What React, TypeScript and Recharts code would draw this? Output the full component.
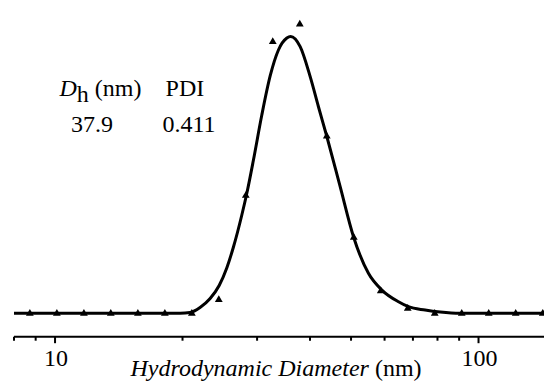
import React from "react";
import { ComposedChart, Line, Scatter, XAxis, YAxis } from "recharts";

// Measured DLS bins (nm) and intensity (%)
const binSizes = [8.721, 10.1, 11.7, 13.54, 15.69, 18.17, 21.04, 24.36, 28.21, 32.67, 37.84, 43.82, 50.75, 58.77, 68.06, 78.82, 91.28, 105.7, 122.4, 141.8];
const binIntensity = [0, 0, 0, 0, 0, 0, 0, 1.4, 12.1, 27.9, 29.7, 18.2, 7.8, 2.3, 0.5, 0, 0, 0, 0, 0];

// Fitted curve
const fitSizes = [8, 12, 16, 19.74, 20.84, 22.0, 23.24, 24.41, 25.44, 26.38, 27.61, 28.38, 29.41, 30.78, 32.21, 33.69, 35.27, 36.0, 37.92, 40.04, 41.88, 43.85, 47.13, 50.67, 54.96, 59.14, 64.72, 68.33, 74.82, 81.2, 90.5, 120, 160, 200];
const fitIntensity = [0, 0, 0, 0, 0.08, 0.6, 1.52, 2.86, 4.66, 6.81, 10.1, 12.36, 15.75, 20.37, 24.38, 27.05, 28.28, 28.44, 27.39, 24.31, 21.22, 18.14, 13.01, 7.87, 4.11, 2.39, 1.19, 0.68, 0.34, 0.13, 0, 0, 0, 0];

const xTicks = [8, 9, 10, 20, 30, 40, 50, 60, 70, 80, 90, 100, 200];
const labeledTicks = [10, 100];

const points = binSizes.map((d, i) => ({ d, v: binIntensity[i] }));
const fit = fitSizes.map((d, i) => ({ d, v: fitIntensity[i] }));

const FONT = "Liberation Serif";
const txt: React.CSSProperties = { fontFamily: FONT, fontSize: 24 };

const Tick = (props: any) => {
  const { x, y, payload } = props;
  const val = payload.value;
  const major = labeledTicks.includes(val);
  return (
    <g>
      <line x1={x} y1={y} x2={x} y2={y + (major ? 6.5 : 4)} stroke="#000" strokeWidth={2} />
      {major ? (
        <text x={x + 1} y={y + 29.5} textAnchor="middle" style={txt} fill="#000">
          {String(val)}
        </text>
      ) : null}
    </g>
  );
};

const Tri = (props: any) => {
  const { cx, cy } = props;
  if (cx == null || cy == null) return null;
  const d = `M${cx},${cy - 4.4}L${cx - 3.9},${cy + 2.3}L${cx + 3.9},${cy + 2.3}Z`;
  return <path d={d} fill="#000" />;
};

export default function App() {
  return (
    <div style={{ position: "fixed", left: 0, top: 0, width: 544, height: 386, overflow: "hidden", background: "#fff" }}>
      <ComposedChart
        width={606}
        height={386}
        margin={{ top: 1.8, right: 0, left: 14, bottom: 0 }}
      >
        <XAxis
          dataKey="d"
          type="number"
          scale="log"
          domain={[8, 200]}
          allowDataOverflow
          ticks={xTicks}
          interval={0}
          tickSize={0}
          tickMargin={0}
          tickLine={false}
          height={49.3}
          axisLine={{ stroke: "#000", strokeWidth: 2 }}
          tick={<Tick />}
        />
        <YAxis type="number" domain={[-2.4, 32]} allowDataOverflow hide />
        <Line
          data={fit}
          dataKey="v"
          type="monotone"
          stroke="#000"
          strokeWidth={3}
          dot={false}
          activeDot={false}
          isAnimationActive={false}
        />
        <Scatter data={points} dataKey="v" shape={<Tri />} isAnimationActive={false} />
      </ComposedChart>
      <svg width={544} height={386} style={{ position: "absolute", left: 0, top: 0, pointerEvents: "none" }}>
        <text x={59.5} y={96} style={txt} fill="#000">
          <tspan fontStyle="italic">D</tspan>
          <tspan dy={6}>h</tspan>
          <tspan dy={-6}> (nm)</tspan>
        </text>
        <text x={165.6} y={96} style={txt} fill="#000">PDI</text>
        <text x={71} y={131.7} style={txt} fill="#000">37.9</text>
        <text x={162.5} y={131.7} style={txt} fill="#000">0.411</text>
        <text x={130.5} y={376} style={txt} fill="#000">
          <tspan fontStyle="italic">Hydrodynamic Diameter</tspan>
          <tspan> (nm)</tspan>
        </text>
      </svg>
    </div>
  );
}
